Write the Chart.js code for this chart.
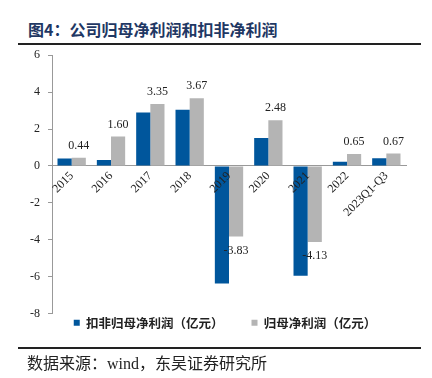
<!DOCTYPE html>
<html>
<head>
<meta charset="utf-8">
<script src="https://cdn.jsdelivr.net/npm/chart.js@4.4.0/dist/chart.umd.min.js"></script>
<style>
  body { margin: 0; background: #fff; width: 432px; height: 378px; position: relative; overflow: hidden; }
  #title { position: absolute; left: 28px; top: 17px; font: bold 16px "Noto Sans CJK SC", sans-serif; color: #1f3864; white-space: nowrap; }
  .rule { position: absolute; left: 18px; width: 403px; background: #222; }
  #source { position: absolute; left: 27px; top: 350px; font: 16px "Liberation Serif", "Noto Sans CJK SC", serif; color: #222; white-space: nowrap; }
  #wrap { position: absolute; left: 0; top: 40px; width: 432px; height: 324px; }
</style>
</head>
<body>
<div id="title">图4：公司归母净利润和扣非净利润</div>
<div class="rule" style="top:43px;height:2px"></div>
<div id="wrap"><canvas id="chart"></canvas></div>
<div class="rule" style="top:347px;height:1.5px"></div>
<div id="source">数据来源：wind，东吴证券研究所</div>
<script>
const years = ['2015', '2016', '2017', '2018', '2019', '2020', '2021', '2022', '2023Q1-Q3'];
const deductedProfit = [0.40, 0.32, 2.90, 3.04, -6.38, 1.51, -5.96, 0.22, 0.42];
const netProfit = [0.44, 1.60, 3.35, 3.67, -3.83, 2.48, -4.13, 0.65, 0.67];
const yTicks = [-8, -6, -4, -2, 0, 2, 4, 6];

// labels on the grey bars only
const valueLabels = {
    id: 'valueLabels',
    afterDatasetsDraw(chart) {
        const ctx = chart.ctx;
        const meta = chart.getDatasetMeta(1);
        ctx.save();
        ctx.font = '12px "Liberation Serif"';
        ctx.fillStyle = '#222';
        ctx.textAlign = 'center';
        ctx.textBaseline = 'middle';
        meta.data.forEach((bar, i) => {
            const v = netProfit[i];
            const y = v >= 0 ? bar.y - 12 : bar.y + 14;
            ctx.fillText(v.toFixed(2), bar.x, y);
        });
        ctx.restore();
    }
};

// legend sits tight under the plot, centred on the page
const legendShift = {
    id: 'legendShift',
    afterLayout(chart) {
        const lg = chart.legend;
        lg.top -= 25; lg.bottom -= 25;
        lg.left += 22; lg.right += 22;
    }
};

new Chart(document.getElementById('chart'), {
    type: 'bar',
    data: {
        labels: years,
        datasets: [{
            label: '扣非归母净利润（亿元）',
            data: deductedProfit,
            backgroundColor: '#00569c',
            borderWidth: 0
        }, {
            label: '归母净利润（亿元）',
            data: netProfit,
            backgroundColor: '#b4b4b4',
            borderWidth: 0
        }]
    },
    options: {
        responsive: true,
        maintainAspectRatio: false,
        animation: false,
        categoryPercentage: 0.72,
        barPercentage: 1,
        layout: { padding: { left: 0, right: 26, top: 0, bottom: 0 } },
        plugins: {
            legend: {
                position: 'bottom',
                labels: {
                    boxWidth: 6,
                    boxHeight: 6,
                    padding: 28,
                    color: '#222',
                    font: { family: 'Noto Sans CJK SC', size: 12.5, weight: 'bold' }
                }
            },
            tooltip: { enabled: false }
        },
        scales: {
            x: {
                position: { y: 0 },
                grid: { display: false, drawTicks: false },
                border: { color: '#999', width: 1 },
                ticks: {
                    z: 1,
                    autoSkip: false,
                    minRotation: 45,
                    maxRotation: 45,
                    padding: 3,
                    color: '#222',
                    font: { family: 'Liberation Serif', size: 12 }
                }
            },
            y: {
                min: -8,
                max: 6,
                afterBuildTicks(scale) {
                    scale.ticks = yTicks.map(v => ({ value: v }));
                },
                afterFit(scale) {
                    scale.width = 52;
                },
                grid: { drawOnChartArea: false, drawTicks: true, tickLength: 4, color: '#999' },
                border: { color: '#999', width: 1 },
                ticks: {
                    padding: 8,
                    color: '#222',
                    font: { family: 'Liberation Serif', size: 12 }
                }
            }
        }
    },
    plugins: [valueLabels, legendShift]
});
</script>
</body>
</html>
